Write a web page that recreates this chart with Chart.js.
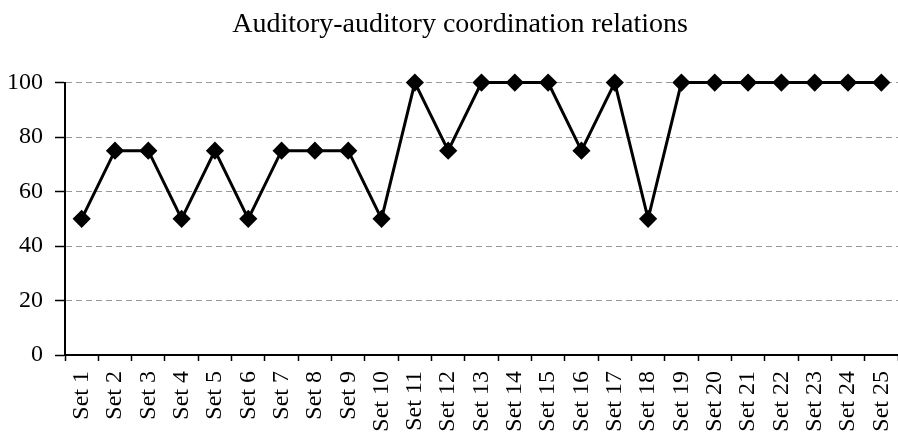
<!DOCTYPE html>
<html>
<head>
<meta charset="utf-8">
<script src="https://cdn.jsdelivr.net/npm/chart.js@4"></script>
<style>
  body { margin: 0; background: #fff; }
  #wrap { width: 898px; height: 435px; position: relative; }
</style>
</head>
<body>
<div id="wrap"><canvas id="chartCanvas"></canvas></div>
<script>
const setLabels = ['Set 1', 'Set 2', 'Set 3', 'Set 4', 'Set 5', 'Set 6', 'Set 7', 'Set 8', 'Set 9', 'Set 10',
    'Set 11', 'Set 12', 'Set 13', 'Set 14', 'Set 15', 'Set 16', 'Set 17', 'Set 18', 'Set 19', 'Set 20',
    'Set 21', 'Set 22', 'Set 23', 'Set 24', 'Set 25'];
const scores = [50, 75, 75, 50, 75, 50, 75, 75, 75, 50, 100, 75, 100, 100, 100, 75, 100, 50, 100, 100,
    100, 100, 100, 100, 100];
const chartTitle = 'Auditory-auditory coordination relations';

const serif = 'Liberation Serif, Times New Roman, serif';

// title in the reference sits a little right of the canvas centre
const shiftTitle = {
    id: 'shiftTitle',
    afterLayout(chart) {
        if (chart.titleBlock) chart.titleBlock.left += 22;
    }
};

const ctx = document.getElementById('chartCanvas').getContext('2d');
const chart = new Chart(ctx, {
    type: 'line',
    data: {
        labels: setLabels,
        datasets: [{
            data: scores,
            borderColor: '#000',
            borderWidth: 3,
            backgroundColor: '#000',
            pointStyle: 'rectRot',
            pointRadius: 7,
            pointBackgroundColor: '#000',
            pointBorderColor: '#000',
            tension: 0,
            clip: false
        }]
    },
    plugins: [shiftTitle],
    options: {
        responsive: true,
        maintainAspectRatio: false,
        animation: false,
        layout: { autoPadding: false, padding: 0 },
        plugins: {
            legend: { display: false },
            tooltip: { enabled: false },
            title: {
                display: true,
                text: chartTitle,
                color: '#000',
                font: { family: serif, size: 28, weight: 'normal' },
                padding: { top: 8, bottom: 41 }
            }
        },
        scales: {
            x: {
                offset: true,
                afterFit: s => { s.paddingRight = 0; s.paddingLeft = 0; s.height = 80; },
                grid: { offset: true, drawOnChartArea: false, drawTicks: true, tickLength: 6, tickColor: '#000', tickWidth: 1.5 },
                border: { color: '#000', width: 2 },
                ticks: {
                    color: '#000',
                    font: { family: serif, size: 24 },
                    minRotation: 90,
                    maxRotation: 90,
                    autoSkip: false,
                    padding: 10
                }
            },
            y: {
                min: 0,
                max: 100,
                afterFit: s => { s.width = 65; },
                grid: {
                    color: c => c.tick && c.tick.value === 0 ? 'transparent' : '#999',
                    lineWidth: 1,
                    tickColor: '#000',
                    tickWidth: 1.5,
                    tickLength: 10,
                    tickBorderDash: []
                },
                border: { color: '#000', width: 2, dash: [6, 4] },
                ticks: {
                    stepSize: 20,
                    color: '#000',
                    font: { family: serif, size: 24 },
                    padding: 12
                }
            }
        }
    }
});
</script>
</body>
</html>
